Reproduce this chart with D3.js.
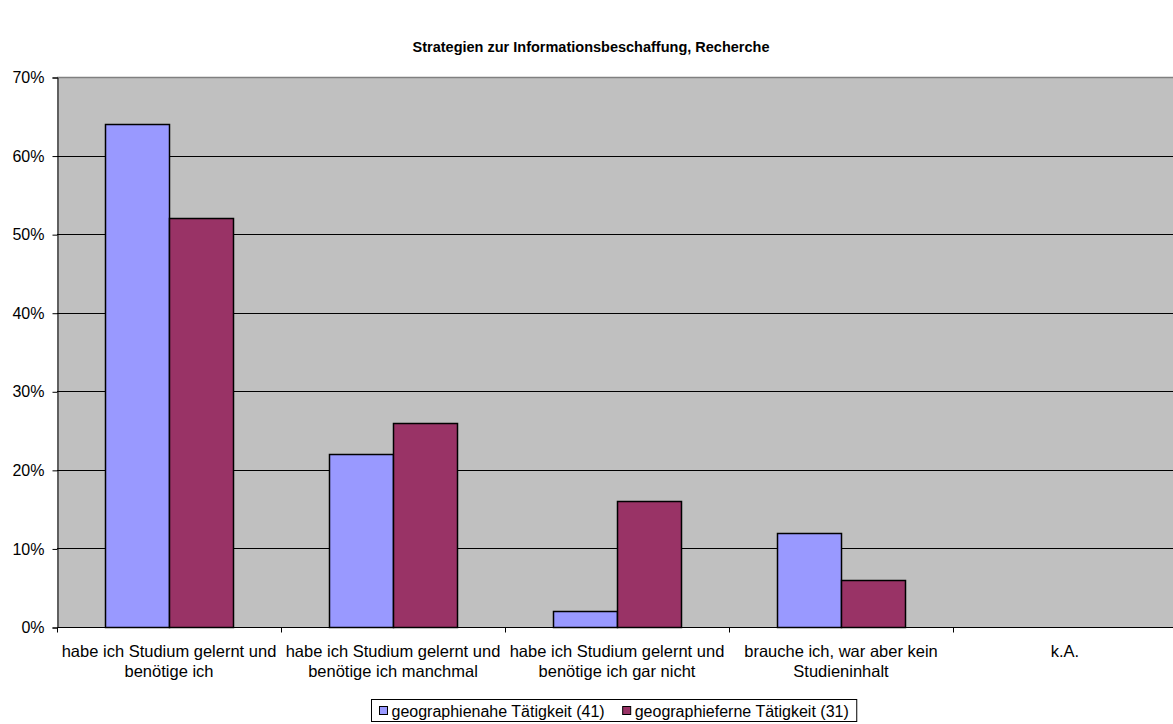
<!DOCTYPE html>
<html>
<head>
<meta charset="utf-8">
<script src="https://cdn.jsdelivr.net/npm/d3@7"></script>
<style>
  html, body { margin: 0; padding: 0; background: #fff; }
  svg { display: block; font-family: "Liberation Sans", Arial, sans-serif; }
</style>
</head>
<body>
<svg id="chart" width="1173" height="724"></svg>
<script>
// Answer categories (two-line axis labels)
const categories = [
  ["habe ich Studium gelernt und", "benötige ich"],
  ["habe ich Studium gelernt und", "benötige ich manchmal"],
  ["habe ich Studium gelernt und", "benötige ich gar nicht"],
  ["brauche ich, war aber kein", "Studieninhalt"],
  ["k.A."]
];
const seriesNames = ["geographienahe Tätigkeit (41)", "geographieferne Tätigkeit (31)"];
const nahe = [64, 22, 2, 12, 0];
const ferne = [52, 26, 16, 6, 0];
const yTicks = [0, 10, 20, 30, 40, 50, 60, 70];
const colors = ["#9999FF", "#993366"];
const title = "Strategien zur Informationsbeschaffung, Recherche";

const svg = d3.select("#chart");
const plotLeft = 57, plotTop = 77, plotBottom = 627, bandW = 224;
const plotRight = plotLeft + bandW * categories.length;
const fs = 16;

const x = d3.scaleBand().domain(d3.range(categories.length)).range([plotLeft, plotRight]).paddingInner(0).paddingOuter(0);
const xs = d3.scaleBand().domain([0, 1]).range([0, x.bandwidth()]).paddingInner(0).paddingOuter(0.75);
const y = d3.scaleLinear().domain([0, 70]).range([plotBottom, plotTop]);

// plot background
svg.append("rect").attr("x", plotLeft).attr("y", plotTop).attr("width", plotRight - plotLeft).attr("height", plotBottom - plotTop)
  .attr("fill", "#C0C0C0");
svg.append("line").attr("x1", plotLeft).attr("x2", plotRight).attr("y1", plotTop + 0.5).attr("y2", plotTop + 0.5)
  .attr("stroke", "#808080").attr("stroke-width", 1.5);

// gridlines
svg.append("g").selectAll("line").data(yTicks.filter(t => t > 0 && t < 70)).join("line")
  .attr("x1", plotLeft).attr("x2", plotRight)
  .attr("y1", d => Math.round(y(d)) + 0.5).attr("y2", d => Math.round(y(d)) + 0.5)
  .attr("stroke", "#000").attr("stroke-width", 1);

// bars
const data = categories.map((c, i) => [nahe[i], ferne[i]]);
const groups = svg.append("g").selectAll("g").data(data).join("g")
  .attr("transform", (d, i) => `translate(${x(i)},0)`);
groups.selectAll("rect").data(d => d.map((v, s) => ({ v, s })).filter(o => o.v > 0)).join("rect")
  .attr("x", d => xs(d.s) + 0.5)
  .attr("y", d => Math.round(y(d.v)) + 0.5)
  .attr("width", xs.bandwidth())
  .attr("height", d => Math.round(y(0)) - Math.round(y(d.v)))
  .attr("fill", d => colors[d.s])
  .attr("stroke", "#000").attr("stroke-width", 1.5);

// y axis
const yAxis = d3.axisLeft(y).tickValues(yTicks).tickSize(5).tickFormat(d => d + "%");
const ya = svg.append("g").attr("transform", `translate(${plotLeft + 0.5},0.5)`).call(yAxis);
ya.select(".domain").attr("stroke", "#000");
ya.selectAll(".tick line").attr("stroke", "#000");
ya.selectAll(".tick text").attr("font-size", fs).attr("fill", "#000").attr("x", -13)
  .attr("font-family", "Liberation Sans, Arial, sans-serif");

// x axis baseline and category ticks
const xa = svg.append("g").attr("transform", `translate(0.5,${plotBottom + 0.5})`);
xa.append("line").attr("x1", plotLeft).attr("x2", plotRight).attr("stroke", "#000");
xa.selectAll("line.tk").data(d3.range(categories.length + 1)).join("line").attr("class", "tk")
  .attr("x1", i => plotLeft + i * bandW).attr("x2", i => plotLeft + i * bandW)
  .attr("y1", 0).attr("y2", 5).attr("stroke", "#000");

// category labels
const lab = svg.append("g").selectAll("text").data(categories).join("text")
  .attr("text-anchor", "middle").attr("font-size", 16.5).attr("fill", "#000")
  .attr("transform", (d, i) => `translate(${x(i) + bandW / 2},${plotBottom + 30})`);
lab.selectAll("tspan").data(d => d).join("tspan")
  .attr("x", 0).attr("dy", (d, i) => i === 0 ? 0 : 20).text(d => d);

// title
svg.append("text").attr("x", 591).attr("y", 52).attr("text-anchor", "middle")
  .attr("font-size", 14.5).attr("font-weight", "bold").attr("fill", "#000").text(title);

// legend
const lg = svg.append("g").attr("transform", "translate(371.5,699.5)");
const box = lg.append("rect").attr("height", 22).attr("fill", "#fff").attr("stroke", "#000");
let lx = 8;
seriesNames.forEach((name, i) => {
  lg.append("rect").attr("x", lx).attr("y", 7).attr("width", 8).attr("height", 8)
    .attr("fill", colors[i]).attr("stroke", "#000");
  const t = lg.append("text").attr("x", lx + 12).attr("y", 17).attr("font-size", fs).attr("fill", "#000").text(name);
  lx += 12 + t.node().getComputedTextLength() + (i === 0 ? 18 : 8);
});
box.attr("width", lx);
</script>
</body>
</html>
